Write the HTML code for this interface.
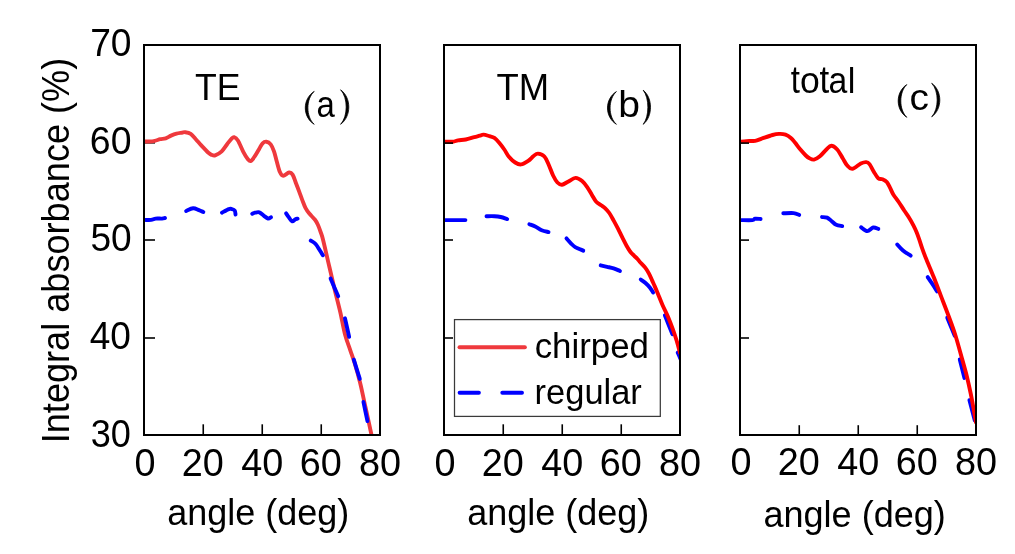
<!DOCTYPE html><html><head><meta charset="utf-8"><style>html,body{margin:0;padding:0;background:#fff;}svg{display:block;will-change:transform;}text{font-family:"Liberation Sans",sans-serif;fill:#000;}.sf{font-family:"Liberation Serif",serif;}</style></head><body>
<svg width="1015" height="554" viewBox="0 0 1015 554">
<rect width="1015" height="554" fill="#fff"/>
<defs>
<clipPath id="c0"><rect x="144" y="45" width="236" height="390"/></clipPath>
<clipPath id="c1"><rect x="444" y="45" width="236" height="390"/></clipPath>
<clipPath id="c2"><rect x="740" y="45" width="236" height="390"/></clipPath>
</defs>
<g stroke="#000" fill="none"><line x1="144" y1="142.8" x2="155" y2="142.8" stroke-width="1.6"/><line x1="144" y1="240" x2="155" y2="240" stroke-width="1.6"/><line x1="144" y1="338" x2="155" y2="338" stroke-width="1.6"/><line x1="203.25" y1="424.3" x2="203.25" y2="435" stroke-width="1.6"/><line x1="262.25" y1="424.3" x2="262.25" y2="435" stroke-width="1.6"/><line x1="321.25" y1="424.3" x2="321.25" y2="435" stroke-width="1.6"/></g>
<g clip-path="url(#c0)"><path d="M144,141.5 C144.9,141.5 147.6,141.62 149.4,141.5 C151.2,141.38 153,141.18 154.8,140.8 C156.6,140.42 158.38,139.62 160.2,139.2 C162.02,138.78 163.9,138.9 165.7,138.3 C167.5,137.7 169.2,136.38 171,135.6 C172.8,134.82 174.68,134.08 176.5,133.6 C178.32,133.12 180.45,132.93 181.9,132.7 C183.35,132.47 183.73,132.02 185.2,132.2 C186.67,132.38 188.93,132.63 190.7,133.8 C192.47,134.97 194.12,137.35 195.8,139.2 C197.48,141.05 199.22,143.17 200.8,144.9 C202.38,146.63 204.03,148.28 205.3,149.6 C206.57,150.92 207.37,151.93 208.4,152.8 C209.43,153.67 210.37,154.38 211.5,154.8 C212.63,155.22 213.5,155.88 215.2,155.3 C216.9,154.72 219.72,153.15 221.7,151.3 C223.68,149.45 225.48,146.28 227.1,144.2 C228.72,142.12 230.23,139.97 231.4,138.8 C232.57,137.63 233.02,136.92 234.1,137.2 C235.18,137.48 236.37,138.07 237.9,140.5 C239.43,142.93 241.67,148.73 243.3,151.8 C244.93,154.87 246.43,157.37 247.7,158.9 C248.97,160.43 249.65,161.55 250.9,161 C252.15,160.45 253.8,157.65 255.2,155.6 C256.6,153.55 258.07,150.75 259.3,148.7 C260.53,146.65 261.42,144.47 262.6,143.3 C263.78,142.13 265.05,141.52 266.4,141.7 C267.75,141.88 269.43,142.78 270.7,144.4 C271.97,146.02 273,148.6 274,151.4 C275,154.2 275.72,157.77 276.7,161.2 C277.68,164.63 278.82,169.57 279.9,172 C280.98,174.43 281.67,175.72 283.2,175.8 C284.73,175.88 287.53,172.7 289.1,172.5 C290.67,172.3 291.48,172.9 292.6,174.6 C293.72,176.3 294.72,179.9 295.8,182.7 C296.88,185.5 298.02,188.5 299.1,191.4 C300.18,194.3 301.22,197.3 302.3,200.1 C303.38,202.9 304.43,205.95 305.6,208.2 C306.77,210.45 307.73,211.67 309.3,213.6 C310.87,215.53 313.55,217.9 315,219.8 C316.45,221.7 317.03,222.88 318,225 C318.97,227.12 319.95,230 320.8,232.5 C321.65,235 321.67,234.25 323.1,240 C324.53,245.75 327.43,258.58 329.4,267 C331.37,275.42 333.08,282.97 334.9,290.5 C336.72,298.03 338.63,304.95 340.3,312.2 C341.97,319.45 343.23,327.65 344.9,334 C346.57,340.35 348.67,345.42 350.3,350.3 C351.93,355.18 353.07,357.88 354.7,363.3 C356.33,368.72 358.48,376.3 360.1,382.8 C361.72,389.3 362.97,395.8 364.4,402.3 C365.83,408.8 367.52,416.35 368.7,421.8 C369.88,427.25 370.87,431.97 371.5,435 C372.13,438.03 372.33,439.17 372.5,440" fill="none" stroke="#ef393d" stroke-width="3.9" stroke-linejoin="round" stroke-linecap="round"/></g>
<g clip-path="url(#c0)" fill="none" stroke="#0000ff" stroke-width="3.9" stroke-linecap="round" stroke-linejoin="round"><path d="M144.7,219.9 C145.78,219.9 149.38,220.12 151.2,219.9 C153.02,219.68 153.8,218.82 155.6,218.6 C157.4,218.38 160.43,218.69 162,218.6 C163.57,218.51 164.51,218.13 165.01,218.03"/><path d="M186.15,210.95 C187.31,210.51 190.98,208.44 193.1,208.3 C195.22,208.16 197.19,209.48 198.9,210.1 C200.61,210.72 202.61,211.7 203.36,212.02"/><path d="M221.92,212.68 C223.09,212.08 227.25,209.7 228.9,209.1 C230.55,208.5 230.83,208.87 231.8,209.1 C232.77,209.33 234.07,209.6 234.7,210.5 C235.33,211.4 235.41,213.85 235.55,214.52"/><path d="M252.25,213.83 C252.71,213.64 253.82,212.96 255,212.7 C256.18,212.44 257.85,211.82 259.3,212.3 C260.75,212.78 262.25,214.57 263.7,215.6 C265.15,216.63 266.79,218.22 268,218.5 C269.21,218.78 270.46,217.47 270.95,217.27"/><path d="M286.09,213.28 C286.56,213.97 287.88,216.05 288.9,217.4 C289.92,218.75 291.12,221.1 292.2,221.4 C293.28,221.7 294.5,219.66 295.4,219.2 C296.3,218.74 297.25,218.75 297.62,218.66"/><path d="M310.77,240.6 C311.58,241.17 314.08,242.35 315.6,244 C317.12,245.65 318.69,248.62 319.9,250.5 C321.11,252.38 322.35,254.5 322.83,255.3"/><path d="M330.58,278.54 C331.85,281.5 336.95,293.3 338.22,296.26"/><path d="M344.95,318.28 C345.65,321.37 348.45,333.73 349.15,336.82"/><path d="M353.81,359.67 C354.81,362.88 358.79,375.72 359.79,378.93"/><path d="M363.44,401.89 C364.11,405.09 366.79,417.91 367.46,421.11"/></g>
<g clip-path="url(#c1)" fill="none" stroke="#0000ff" stroke-width="3.9" stroke-linecap="round" stroke-linejoin="round"><path d="M444.7,220.1 C448.15,220.1 461.95,220.1 465.4,220.1"/><path d="M486.5,216.2 C487.82,216.2 492.03,216.07 494.4,216.2 C496.77,216.33 498.58,216.52 500.7,217 C502.82,217.48 506.06,218.74 507.13,219.08"/><path d="M529.35,224.25 C530.33,224.63 533.14,225.49 535.2,226.5 C537.26,227.51 539.48,229.38 541.7,230.3 C543.92,231.22 547.38,231.74 548.52,232.03"/><path d="M566.47,238.42 C567.21,239.23 569.45,241.85 570.9,243.3 C572.35,244.75 573.14,245.88 575.2,247.1 C577.26,248.32 581.92,250.03 583.26,250.62"/><path d="M600.68,265.35 C601.75,265.59 604.95,266.29 607.1,266.8 C609.25,267.31 611.46,267.71 613.6,268.4 C615.74,269.09 618.89,270.52 619.95,270.94"/><path d="M640.76,279.52 C641.5,280.06 643.66,281.44 645.2,282.8 C646.74,284.16 648.68,286.08 650,287.7 C651.32,289.32 652.6,291.71 653.12,292.51"/><path d="M664.86,315.25 C666.11,318.4 671.09,331 672.34,334.15"/><path d="M677.78,352.64 C678.27,353.76 680.23,358.24 680.72,359.36"/></g>
<g clip-path="url(#c1)"><path d="M444,141.7 C445.45,141.7 450.35,141.92 452.7,141.7 C455.05,141.48 455.93,140.77 458.1,140.4 C460.27,140.03 463,140.05 465.7,139.5 C468.4,138.95 471.97,137.73 474.3,137.1 C476.63,136.47 478.17,136.12 479.7,135.7 C481.23,135.28 481.87,134.52 483.5,134.6 C485.13,134.68 487.68,135.65 489.5,136.2 C491.32,136.75 492.78,136.82 494.4,137.9 C496.02,138.98 497.55,140.77 499.2,142.7 C500.85,144.63 502.72,147.2 504.3,149.5 C505.88,151.8 506.88,154.33 508.7,156.5 C510.52,158.67 513.13,161.18 515.2,162.5 C517.27,163.82 518.93,164.67 521.1,164.4 C523.27,164.13 526.12,162.3 528.2,160.9 C530.28,159.5 531.98,157.22 533.6,156 C535.22,154.78 536.1,153.52 537.9,153.6 C539.7,153.68 542.6,154.65 544.4,156.5 C546.2,158.35 547.25,161.53 548.7,164.7 C550.15,167.87 551.65,172.53 553.1,175.5 C554.55,178.47 555.92,180.97 557.4,182.5 C558.88,184.03 560.23,184.83 562,184.7 C563.77,184.57 565.73,182.83 568,181.7 C570.27,180.57 573.25,178 575.6,177.9 C577.95,177.8 580.12,179.48 582.1,181.1 C584.08,182.72 585.88,185.33 587.5,187.6 C589.12,189.87 590.35,192.35 591.8,194.7 C593.25,197.05 594.57,199.9 596.2,201.7 C597.83,203.5 600.13,204.43 601.6,205.5 C603.07,206.57 603.72,206.85 605,208.1 C606.28,209.35 607.85,210.92 609.3,213 C610.75,215.08 612.25,217.98 613.7,220.6 C615.15,223.22 616.57,225.9 618,228.7 C619.43,231.5 620.85,234.52 622.3,237.4 C623.75,240.28 625.33,243.57 626.7,246 C628.07,248.43 629.25,250.37 630.5,252 C631.75,253.63 633.03,254.63 634.2,255.8 C635.37,256.97 636.58,258.02 637.5,259 C638.42,259.98 638.42,260.27 639.7,261.7 C640.98,263.13 643.65,265.62 645.2,267.6 C646.75,269.58 647.83,271.43 649,273.6 C650.17,275.77 651.22,278.43 652.2,280.6 C653.18,282.77 653.93,284.37 654.9,286.6 C655.87,288.83 656.73,290.93 658,294 C659.27,297.07 660.77,301.05 662.5,305 C664.23,308.95 666.68,313.68 668.4,317.7 C670.12,321.72 671.43,325.3 672.8,329.1 C674.17,332.9 675.4,336.52 676.6,340.5 C677.8,344.48 679.43,350.92 680,353" fill="none" stroke="#ff0000" stroke-width="3.9" stroke-linejoin="round" stroke-linecap="round"/></g>
<g clip-path="url(#c2)" fill="none" stroke="#0000ff" stroke-width="3.9" stroke-linecap="round" stroke-linejoin="round"><path d="M740.7,220.1 C742.68,220.1 750.22,220.32 752.6,220.1 C754.98,219.88 753.67,218.99 755,218.8 C756.33,218.61 759.67,218.95 760.6,218.98"/><path d="M783.3,213.29 C785.02,213.26 790.94,212.83 793.6,213.1 C796.26,213.37 798.29,214.59 799.23,214.89"/><path d="M822,217.07 C822.85,217.16 825.48,216.91 827.1,217.6 C828.72,218.29 830.18,220 831.7,221.2 C833.22,222.4 834.45,223.99 836.2,224.8 C837.95,225.61 841.21,225.85 842.21,226.06"/><path d="M861.1,227.27 C862.13,227.91 865.28,231.06 867.3,231.1 C869.32,231.14 871.36,227.86 873.2,227.5 C875.04,227.14 877.47,228.68 878.33,228.91"/><path d="M897.28,244.51 C898.24,245.51 900.78,248.65 903,250.5 C905.22,252.35 909.35,254.76 910.62,255.61"/><path d="M927.69,277.18 C928.58,278.48 931.43,282.63 933,285 C934.57,287.37 936.43,290.34 937.12,291.41"/><path d="M947.27,317.65 C948.51,320.68 953.49,332.82 954.73,335.85"/><path d="M959.77,359.48 C960.55,362.55 963.65,374.85 964.43,377.92"/><path d="M969.48,400.18 C970.37,403.58 973.93,417.22 974.82,420.62"/></g>
<g clip-path="url(#c2)"><path d="M740,141.7 C741.08,141.6 743.97,141.25 746.5,141.1 C749.03,140.95 752.67,141.22 755.2,140.8 C757.73,140.38 758.82,139.57 761.7,138.6 C764.58,137.63 769.62,135.78 772.5,135 C775.38,134.22 776.83,133.97 779,133.9 C781.17,133.83 783.52,133.93 785.5,134.6 C787.48,135.27 789.28,136.53 790.9,137.9 C792.52,139.27 793.62,140.85 795.2,142.8 C796.78,144.75 798.63,147.48 800.4,149.6 C802.17,151.72 804.28,154.05 805.8,155.5 C807.32,156.95 808.13,157.62 809.5,158.3 C810.87,158.98 812.27,159.93 814,159.6 C815.73,159.27 817.83,157.98 819.9,156.3 C821.97,154.62 824.5,151.27 826.4,149.5 C828.3,147.73 829.5,145.7 831.3,145.7 C833.1,145.7 835.3,147.42 837.2,149.5 C839.1,151.58 841.07,155.58 842.7,158.2 C844.33,160.82 845.4,163.43 847,165.2 C848.6,166.97 850,169.08 852.3,168.8 C854.6,168.52 858.48,164.62 860.8,163.5 C863.12,162.38 864.75,162 866.2,162.1 C867.65,162.2 868.23,162.5 869.5,164.1 C870.77,165.7 872.35,169.35 873.8,171.7 C875.25,174.05 876.75,176.95 878.2,178.2 C879.65,179.45 881.07,178.57 882.5,179.2 C883.93,179.83 885.53,180.55 886.8,182 C888.07,183.45 889.02,185.83 890.1,187.9 C891.18,189.97 891.87,192.05 893.3,194.4 C894.73,196.75 896.88,199.32 898.7,202 C900.52,204.68 902.47,207.88 904.2,210.5 C905.93,213.12 907.57,215.23 909.1,217.7 C910.63,220.17 912.13,222.85 913.4,225.3 C914.67,227.75 915.7,229.97 916.7,232.4 C917.7,234.83 918.5,237.28 919.4,239.9 C920.3,242.52 921.03,245.08 922.1,248.1 C923.17,251.12 923.85,253.13 925.8,258 C927.75,262.87 931.27,270.95 933.8,277.3 C936.33,283.65 938.6,289.83 941,296.1 C943.4,302.37 945.87,308.58 948.2,314.9 C950.53,321.22 952.73,326.85 955,334 C957.27,341.15 959.85,350.85 961.8,357.8 C963.75,364.75 965.22,369.75 966.7,375.7 C968.18,381.65 969.53,387.88 970.7,393.5 C971.87,399.12 972.82,404.6 973.7,409.4 C974.58,414.2 975.62,420.15 976,422.3" fill="none" stroke="#ff0000" stroke-width="3.9" stroke-linejoin="round" stroke-linecap="round"/></g>
<g stroke="#000" fill="none"><line x1="444" y1="143.1" x2="453" y2="143.1" stroke-width="1.6"/><line x1="444" y1="240" x2="453" y2="240" stroke-width="1.6"/><line x1="444" y1="338" x2="453" y2="338" stroke-width="1.6"/><line x1="503.25" y1="424.3" x2="503.25" y2="435" stroke-width="1.6"/><line x1="562.25" y1="424.3" x2="562.25" y2="435" stroke-width="1.6"/><line x1="621.25" y1="424.3" x2="621.25" y2="435" stroke-width="1.6"/></g>
<g stroke="#000" fill="none"><line x1="740" y1="143.1" x2="749" y2="143.1" stroke-width="1.6"/><line x1="740" y1="240.1" x2="749" y2="240.1" stroke-width="1.6"/><line x1="740" y1="338" x2="749" y2="338" stroke-width="1.6"/><line x1="799.25" y1="425.2" x2="799.25" y2="435" stroke-width="1.6"/><line x1="858.25" y1="425.2" x2="858.25" y2="435" stroke-width="1.6"/><line x1="917.25" y1="425.2" x2="917.25" y2="435" stroke-width="1.6"/></g>
<rect x="144" y="45" width="236" height="390" fill="none" stroke="#000" stroke-width="2"/>
<rect x="444" y="45" width="236" height="390" fill="none" stroke="#000" stroke-width="2"/>
<rect x="740" y="45" width="236" height="390" fill="none" stroke="#000" stroke-width="2"/>
<rect x="454.5" y="319.6" width="205.8" height="96.8" fill="#fff" stroke="#3a3a3a" stroke-width="1.25"/>
<line x1="459.5" y1="347.3" x2="524.9" y2="347.3" stroke="#ef393d" stroke-width="3.9" stroke-linecap="round"/>
<line x1="459.6" y1="392.8" x2="478.9" y2="392.8" stroke="#0000ff" stroke-width="3.9" stroke-linecap="round"/>
<line x1="502.3" y1="392.8" x2="522" y2="392.8" stroke="#0000ff" stroke-width="3.9" stroke-linecap="round"/>
<text transform="translate(90.14,56.11) scale(0.9619,1)" font-size="38.73">70</text><text transform="translate(89.83,154.31) scale(0.9531,1)" font-size="39.30">60</text><text transform="translate(90.42,251.31) scale(0.9506,1)" font-size="39.01">50</text><text transform="translate(89.67,349.22) scale(0.9738,1)" font-size="38.03">40</text><text transform="translate(90.66,447.32) scale(0.9462,1)" font-size="38.17">30</text><text transform="translate(134.5,476.21) scale(0.9700,1)" font-size="39.01">0</text><text transform="translate(181.81,476.21) scale(0.9700,1)" font-size="39.01">20</text><text transform="translate(241.28,476.21) scale(0.9700,1)" font-size="39.01">40</text><text transform="translate(299.81,476.21) scale(0.9700,1)" font-size="39.01">60</text><text transform="translate(358.9,476.21) scale(0.9700,1)" font-size="39.01">80</text><text transform="translate(434.5,476.21) scale(0.9700,1)" font-size="39.01">0</text><text transform="translate(481.81,476.21) scale(0.9700,1)" font-size="39.01">20</text><text transform="translate(541.28,476.21) scale(0.9700,1)" font-size="39.01">40</text><text transform="translate(599.81,476.21) scale(0.9700,1)" font-size="39.01">60</text><text transform="translate(658.9,476.21) scale(0.9700,1)" font-size="39.01">80</text><text transform="translate(730.5,475.21) scale(0.9700,1)" font-size="39.01">0</text><text transform="translate(777.81,475.21) scale(0.9700,1)" font-size="39.01">20</text><text transform="translate(837.28,475.21) scale(0.9700,1)" font-size="39.01">40</text><text transform="translate(895.81,475.21) scale(0.9700,1)" font-size="39.01">60</text><text transform="translate(954.9,475.21) scale(0.9700,1)" font-size="39.01">80</text><text transform="translate(167.18,524.99) scale(0.9557,1)" font-size="37.65">angle (deg)</text><text transform="translate(467.18,524.99) scale(0.9557,1)" font-size="37.65">angle (deg)</text><text transform="translate(763.38,526.99) scale(0.9579,1)" font-size="37.65">angle (deg)</text><text transform="translate(194.89,99.9) scale(0.9494,1)" font-size="37.54">TE</text><text transform="translate(496.57,99.9) scale(0.9647,1)" font-size="37.83">TM</text><text transform="translate(790.81,92.61) scale(0.9025,1.0710)" font-size="36.50">t</text><text transform="translate(799.98,93.04) scale(0.9748,0.9963)" font-size="36.50">o</text><text transform="translate(819.58,92.61) scale(0.9562,1.0710)" font-size="36.50">t</text><text transform="translate(828.58,93.04) scale(0.9240,0.9963)" font-size="36.50">a</text><text transform="translate(847.86,92.8) scale(0.9437,0.9750)" font-size="36.50">l</text><path d="M314.2,91.4 C302.33,98.9 302.33,116.8 314.2,124.3 C305.8,116.8 305.8,98.9 314.2,91.4Z" fill="#000" stroke="#000" stroke-width="0.8" stroke-linejoin="round"/><text transform="translate(316.52,116.63) scale(0.8925,1)" font-size="36.91">a</text><path d="M340.6,89.8 C351.53,97.65 351.53,116.45 340.6,124.3 C348.07,116.45 348.07,97.65 340.6,89.8Z" fill="#000" stroke="#000" stroke-width="0.8" stroke-linejoin="round"/><path d="M616.4,91.6 C604.53,99.06 604.53,116.84 616.4,124.3 C608,116.84 608,99.06 616.4,91.6Z" fill="#000" stroke="#000" stroke-width="0.8" stroke-linejoin="round"/><text transform="translate(618.36,116.53) scale(1.0686,1)" font-size="36.60">b</text><path d="M643.2,90.2 C652.93,97.97 652.93,116.53 643.2,124.3 C649.47,116.53 649.47,97.97 643.2,90.2Z" fill="#000" stroke="#000" stroke-width="0.8" stroke-linejoin="round"/><path d="M906.8,84.6 C895.33,92.06 895.33,109.84 906.8,117.3 C898.8,109.84 898.8,92.06 906.8,84.6Z" fill="#000" stroke="#000" stroke-width="0.8" stroke-linejoin="round"/><text transform="translate(909.45,110.22) scale(1.0319,1)" font-size="37.64">c</text><path d="M931.7,83.3 C942.5,90.93 942.5,109.17 931.7,116.8 C939.03,109.17 939.03,90.93 931.7,83.3Z" fill="#000" stroke="#000" stroke-width="0.8" stroke-linejoin="round"/><text transform="translate(534.63,357.89) scale(0.9876,1)" font-size="35.29">chirped</text><text transform="translate(534.56,404.03) scale(0.9831,1)" font-size="35.08">regular</text>
<text transform="translate(68.56,443.25) rotate(-90) scale(0.9434,1)" font-size="38.29">Integral absorbance (%)</text>
</svg></body></html>
